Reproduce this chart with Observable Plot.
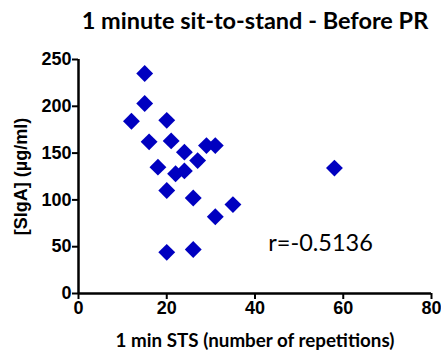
<!DOCTYPE html>
<html><head><meta charset="utf-8">
<script src="https://cdn.jsdelivr.net/npm/d3@7"></script>
<script src="https://cdn.jsdelivr.net/npm/@observablehq/plot@0.6"></script>
<style>body{margin:0;background:#fff;} svg{display:block;}</style>
</head><body><div id="chart"></div>
<script>
const title = "1 minute sit-to-stand - Before PR";
const xLabel = "1 min STS (number of repetitions)";
const yLabel = "[SIgA] (µg/ml)";
const annotation = "r=-0.5136";
const annotationX = 43;
const annotationY = 53;
const sts = [15, 15, 12, 20, 16, 21, 24, 18, 27, 29, 31, 22, 24, 20, 26, 35, 31, 20, 26, 58];
const siga = [235, 203, 184, 185, 162, 163, 151, 135, 142, 158, 158, 128, 131, 110, 102, 95, 82, 44, 47, 134];
const xTicks = [0, 20, 40, 60, 80];
const yTicks = [0, 50, 100, 150, 200, 250];

const data = sts.map((x, i) => ({x, y: siga[i]}));
const blue = "#0000c0";
const plot = Plot.plot({
  width: 441, height: 353,
  marginLeft: 78, marginRight: 10, marginTop: 59, marginBottom: 60,
  style: {fontFamily: "Liberation Sans, Arial, sans-serif", background: "#fff"},
  x: {domain: [0, 80], ticks: xTicks},
  y: {domain: [0, 250], ticks: yTicks},
  marks: [
    Plot.axisX({ticks: xTicks, tickSize: 6, strokeWidth: 2, tickPadding: 2, fontSize: 18, fontWeight: "bold", fill: "#000", label: null}),
    Plot.axisY({ticks: yTicks, tickSize: 6, strokeWidth: 2, tickPadding: 1, fontSize: 18, fontWeight: "bold", fill: "#000", label: null}),
    Plot.ruleY([0], {stroke: "#000", strokeWidth: 2.5}),
    Plot.ruleX([0], {stroke: "#000", strokeWidth: 2.5}),
    Plot.dot(data, {x: "x", y: "y", symbol: "diamond2", r: 7.6, fill: blue, stroke: "none"}),
    Plot.text([annotation], {x: annotationX, y: annotationY, text: d => d, textAnchor: "start", fontSize: 23.5, fontFamily: "Lato, sans-serif", fill: "#000"}),
    Plot.text([title], {frameAnchor: "top", dy: -47, text: d => d, fontSize: 23.5, fontWeight: "bold", fontFamily: "Lato, sans-serif", fill: "#000"}),
    Plot.text([xLabel], {frameAnchor: "bottom", dy: 53, text: d => d, fontSize: 18.8, fontWeight: "bold", fontFamily: "Lato, sans-serif", fill: "#000"}),
    Plot.text([yLabel], {frameAnchor: "left", dx: -57, rotate: -90, textAnchor: "middle", text: d => d, fontSize: 18, fontWeight: "bold", fill: "#000"})
  ]
});
document.getElementById("chart").appendChild(plot);
</script></body></html>
